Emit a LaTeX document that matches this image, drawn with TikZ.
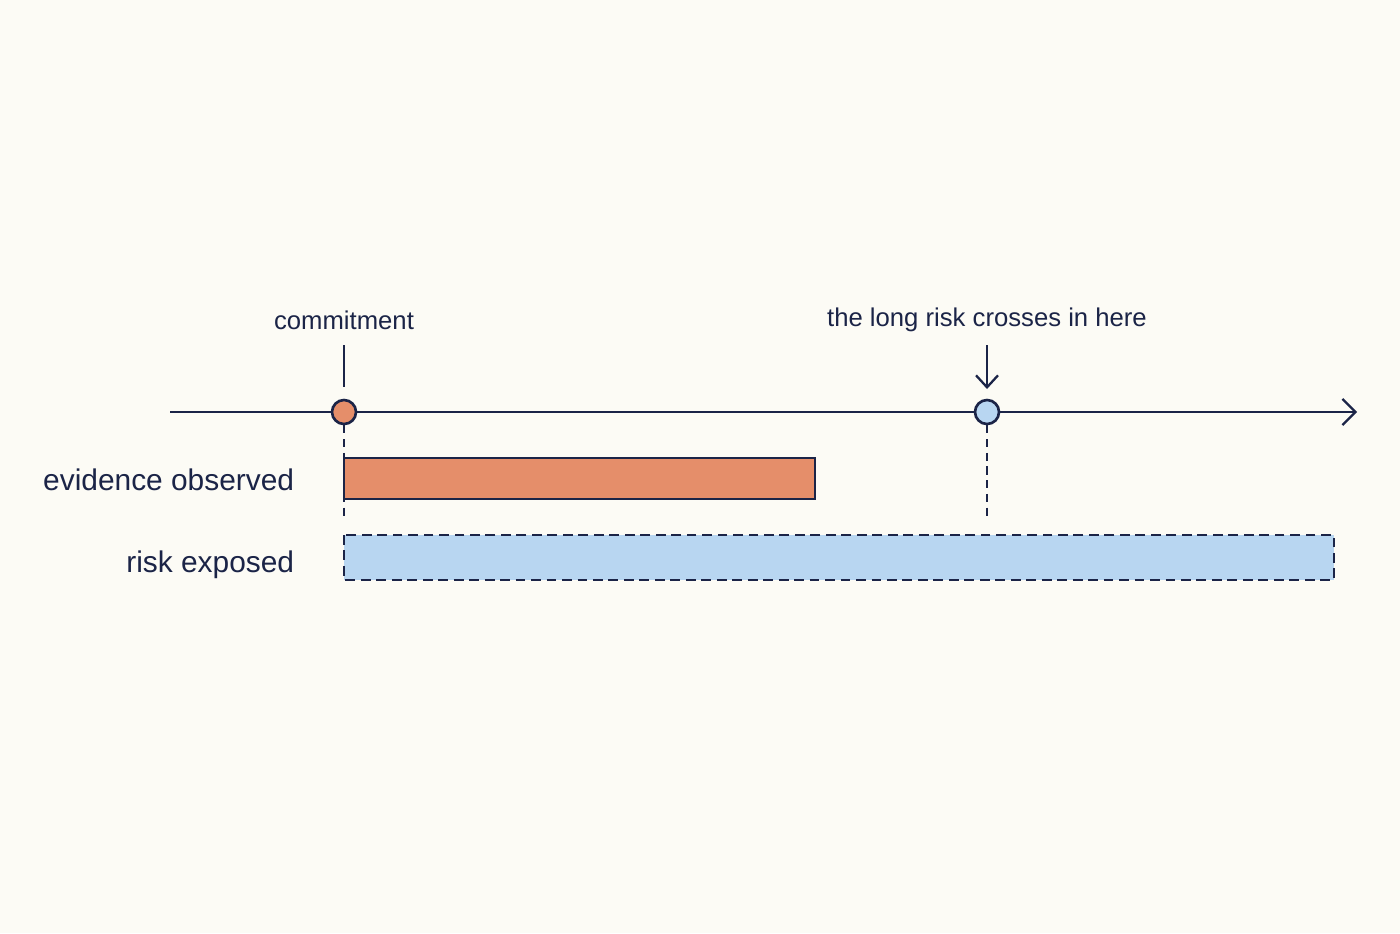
\documentclass[tikz,border=0pt]{standalone}
\usepackage{fontspec}
\setmainfont{Liberation Sans}
\usetikzlibrary{arrows.meta}
\definecolor{ink}{HTML}{1B2447}
\definecolor{paper}{HTML}{FCFBF5}
\definecolor{evid}{HTML}{E58E6A}
\definecolor{risk}{HTML}{B8D6F1}
\tikzset{
  dot/.style={circle,draw=ink,line width=0.75pt,minimum size=0.24cm,inner sep=0pt},
  toplabel/.style={text=ink,font=\fontsize{7.3}{9}\selectfont},
  rowlabel/.style={text=ink,font=\fontsize{8.5}{10}\selectfont,anchor=east},
  guide/.style={draw=ink,line width=0.65pt,dash pattern=on 2.3pt off 1.6pt},
}
\begin{document}
\begin{tikzpicture}[x=0.01cm,y=-0.01cm,line width=0.65pt]
        \fill[paper] (0,0) rectangle (1400,933);
        \useasboundingbox (0,0) rectangle (1400,933);

        % Axis
        \coordinate (start) at (170,412);
        \coordinate (end) at (1357,412);
        \draw[ink,-{Straight Barb[length=1.3mm,width=2.6mm]}] (start) -- (end);

        % Bars
        \draw[ink,fill=evid,line width=0.75pt] (344,458) rectangle (815,499) coordinate (evidbar);
        \draw[ink,fill=risk,line width=0.75pt,dash pattern=on 2.8pt off 1.6pt] (344,535) rectangle (1334,580) coordinate (riskbar);

        % Points
        \node[dot,fill=evid] (commit) at (344,412) {};
        \node[dot,fill=risk] (cross) at (987,412) {};

        \coordinate (committop) at (344,345);
        \coordinate (commitlow) at (344,387);
        \draw[ink] (committop) -- (commitlow);
        \coordinate (crosstop) at (987,345);
        \coordinate (crosslow) at (987,389);
        \draw[ink,-{Straight Barb[length=1.2mm,width=2.2mm]}] (crosstop) -- (crosslow);

        \coordinate (commitend) at (344,521);
        \draw[guide] (commit.south) -- (commitend);
        \coordinate (crossend) at (987,521);
        \draw[guide] (cross.south) -- (crossend);

        % Labels
        \node[toplabel] (commitlabel) at (344,320) {commitment};
        \node[toplabel] (crosslabel) at (987,320) {the long risk crosses in here};
        \node[rowlabel] (evidlabel) at (307,480) {evidence observed};
        \node[rowlabel] (risklabel) at (307,565) {risk exposed};
    \end{tikzpicture}
\end{document}
